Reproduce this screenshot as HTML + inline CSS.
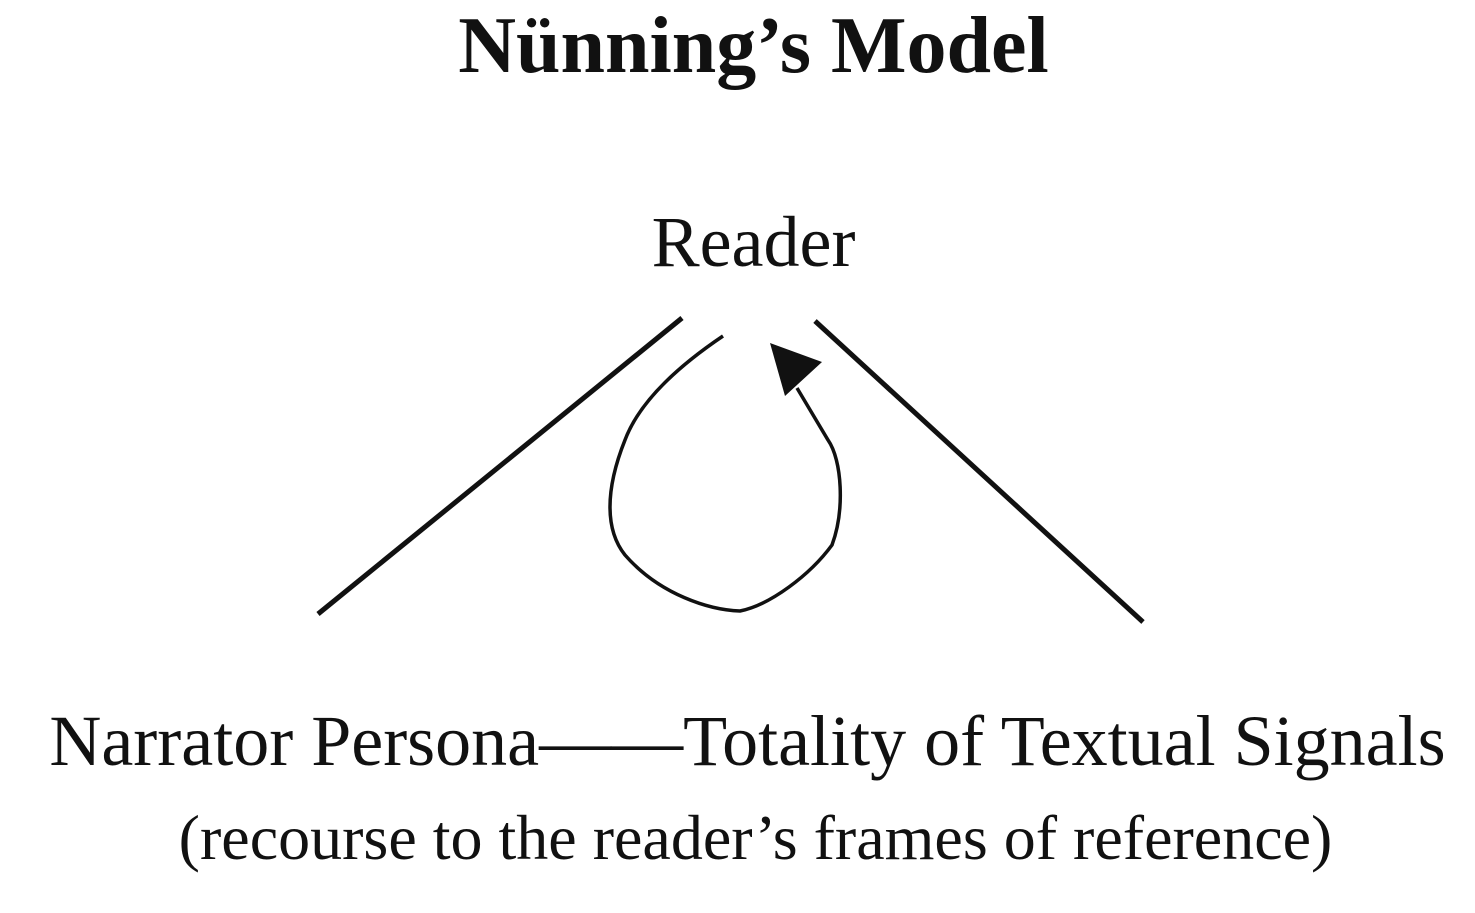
<!DOCTYPE html>
<html><head><style>
html,body{margin:0;padding:0;background:#fff;}
body{width:1475px;height:913px;position:relative;overflow:hidden;font-family:"Liberation Serif",serif;color:#111;}
.t{position:absolute;left:0;width:1475px;text-align:center;white-space:nowrap;line-height:1;}
</style></head><body>
<div class="t" style="top:6px;font-size:80px;font-weight:bold;left:16px;">Nünning’s Model</div>
<div class="t" style="top:206px;font-size:72px;left:16px;">Reader</div>
<div class="t" style="top:705px;font-size:72px;left:10px;">Narrator Persona——Totality of Textual Signals</div>
<div class="t" style="top:806px;font-size:64px;left:18px;">(recourse to the reader’s frames of reference)</div>
<svg width="1475" height="913" style="position:absolute;left:0;top:0">
<line x1="682" y1="318" x2="318" y2="614" stroke="#111" stroke-width="5"/>
<line x1="815" y1="321" x2="1143" y2="622" stroke="#111" stroke-width="5"/>
<path d="M723,336 C680,365 640,400 625,440 C605,490 605,530 625,555 C660,595 710,610 740,611 C770,605 810,575 832,545 C845,510 842,460 828,440 L797,388" fill="none" stroke="#111" stroke-width="3.5"/>
<polygon points="770,343 785,396 822,362" fill="#111"/>
</svg>
</body></html>
